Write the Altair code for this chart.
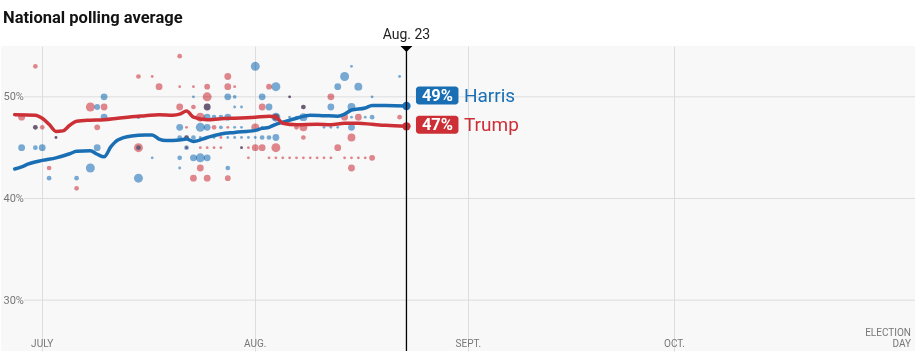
import altair as alt
import pandas as pd

# ---------------- data ----------------
title_text = "National polling average"
candidates = ["Harris", "Trump"]

# polling averages (knots)
harris_avg_dates = ["2024-06-27", "2024-06-28", "2024-06-29", "2024-07-01", "2024-07-03", "2024-07-05",
                    "2024-07-06", "2024-07-08", "2024-07-09", "2024-07-10", "2024-07-11", "2024-07-12",
                    "2024-07-14", "2024-07-16", "2024-07-17", "2024-07-18", "2024-07-19", "2024-07-21",
                    "2024-07-22", "2024-07-23", "2024-07-25", "2024-07-27", "2024-07-29", "2024-08-01",
                    "2024-08-02", "2024-08-03", "2024-08-04", "2024-08-05", "2024-08-07", "2024-08-09",
                    "2024-08-11", "2024-08-13", "2024-08-14", "2024-08-15", "2024-08-17", "2024-08-18",
                    "2024-08-20", "2024-08-23"]
harris_avg_values = [42.9, 43.1, 43.4, 43.75, 44.0, 44.4,
                     44.65, 44.7, 44.35, 44.1, 45.1, 45.75,
                     46.15, 46.25, 46.25, 45.85, 45.7, 45.75,
                     45.85, 45.6, 46.0, 46.35, 46.5, 46.7,
                     46.9, 47.0, 47.3, 47.5, 47.9, 48.2,
                     48.15, 48.1, 48.3, 48.7, 48.9, 49.15,
                     49.15, 49.1]

trump_avg_dates = ["2024-06-27", "2024-06-30", "2024-07-01", "2024-07-02", "2024-07-03", "2024-07-04",
                   "2024-07-05", "2024-07-06", "2024-07-08", "2024-07-10", "2024-07-12", "2024-07-14",
                   "2024-07-16", "2024-07-18", "2024-07-20", "2024-07-21", "2024-07-22", "2024-07-23",
                   "2024-07-25", "2024-07-27", "2024-07-29", "2024-08-01", "2024-08-03", "2024-08-04",
                   "2024-08-05", "2024-08-07", "2024-08-10", "2024-08-12", "2024-08-14", "2024-08-16",
                   "2024-08-18", "2024-08-20", "2024-08-23"]
trump_avg_values = [48.25, 48.2, 47.9, 47.3, 46.6, 46.65,
                    47.2, 47.6, 47.7, 47.75, 47.9, 48.05,
                    48.15, 48.25, 48.2, 48.3, 48.6, 48.0,
                    47.75, 47.85, 47.9, 48.0, 48.1, 48.0,
                    47.4, 47.25, 47.3, 47.25, 47.4, 47.4,
                    47.3, 47.2, 47.1]

# individual polls
harris_poll_dates = ["2024-06-28", "2024-06-30", "2024-06-30", "2024-07-01", "2024-07-02", "2024-07-03",
                     "2024-07-06", "2024-07-08", "2024-07-09", "2024-07-09", "2024-07-10", "2024-07-10",
                     "2024-07-15", "2024-07-15", "2024-07-15", "2024-07-17", "2024-07-21", "2024-07-21",
                     "2024-07-21", "2024-07-21", "2024-07-22", "2024-07-22", "2024-07-23", "2024-07-23",
                     "2024-07-23", "2024-07-24", "2024-07-24", "2024-07-24", "2024-07-25", "2024-07-25",
                     "2024-07-25", "2024-07-25", "2024-07-26", "2024-07-26", "2024-07-27", "2024-07-27",
                     "2024-07-28", "2024-07-28", "2024-07-28", "2024-07-28", "2024-07-29", "2024-07-29",
                     "2024-07-29", "2024-07-29", "2024-07-30", "2024-07-30", "2024-07-30", "2024-07-30",
                     "2024-07-31", "2024-08-01", "2024-08-01", "2024-08-02", "2024-08-02", "2024-08-02",
                     "2024-08-03", "2024-08-03", "2024-08-03", "2024-08-04", "2024-08-04", "2024-08-04",
                     "2024-08-06", "2024-08-06", "2024-08-07", "2024-08-08", "2024-08-08", "2024-08-11",
                     "2024-08-12", "2024-08-12", "2024-08-13", "2024-08-13", "2024-08-14", "2024-08-15",
                     "2024-08-15", "2024-08-15", "2024-08-15", "2024-08-16", "2024-08-17", "2024-08-18",
                     "2024-08-18", "2024-08-22"]
harris_poll_values = [45, 45, 47, 45, 42, 46,
                      42, 43, 49, 45, 50, 48,
                      48, 45, 42, 44, 47, 46,
                      44, 43, 46, 45, 50, 46,
                      44, 47, 46, 44, 49, 48,
                      47, 44, 48, 46, 48, 47,
                      50, 48, 46, 43, 50, 49,
                      47, 46, 49, 47, 46, 45,
                      46, 53, 46, 50, 47, 46,
                      49, 47, 46, 51, 48, 46,
                      50, 48, 48, 49, 48, 47,
                      49, 47, 51, 47, 52, 53,
                      49, 48, 47, 51, 48, 50,
                      48, 52]
harris_poll_weights = [3, 2, 2, 3, 2, 1,
                       2, 4, 2.5, 3, 3, 3,
                       1.5, 2, 4, 1, 3, 2,
                       2, 1, 2, 2, 1, 2,
                       3, 4, 1, 4, 3, 3,
                       3, 3, 2, 1, 2, 1.5,
                       3, 3, 1, 2, 1.5, 1,
                       1, 1, 1, 1, 1, 1,
                       1, 4, 1, 3, 1, 2,
                       3, 1, 2, 4, 4, 3,
                       1, 1, 1, 2, 3.5, 1,
                       3, 1, 3, 1, 4, 1,
                       3.5, 1, 3, 3.5, 1, 1,
                       2, 1]

trump_poll_dates = ["2024-06-28", "2024-06-30", "2024-06-30", "2024-07-01", "2024-07-02", "2024-07-03",
                    "2024-07-06", "2024-07-08", "2024-07-09", "2024-07-10", "2024-07-15", "2024-07-15",
                    "2024-07-17", "2024-07-18", "2024-07-21", "2024-07-21", "2024-07-21", "2024-07-22",
                    "2024-07-22", "2024-07-22", "2024-07-23", "2024-07-23", "2024-07-23", "2024-07-24",
                    "2024-07-24", "2024-07-24", "2024-07-25", "2024-07-25", "2024-07-25", "2024-07-25",
                    "2024-07-25", "2024-07-25", "2024-07-26", "2024-07-26", "2024-07-27", "2024-07-27",
                    "2024-07-28", "2024-07-28", "2024-07-28", "2024-07-28", "2024-07-29", "2024-07-30",
                    "2024-07-31", "2024-07-31", "2024-08-01", "2024-08-01", "2024-08-02", "2024-08-02",
                    "2024-08-03", "2024-08-03", "2024-08-04", "2024-08-04", "2024-08-04", "2024-08-05",
                    "2024-08-06", "2024-08-06", "2024-08-07", "2024-08-07", "2024-08-08", "2024-08-08",
                    "2024-08-08", "2024-08-08", "2024-08-09", "2024-08-10", "2024-08-11", "2024-08-12",
                    "2024-08-12", "2024-08-13", "2024-08-14", "2024-08-14", "2024-08-15", "2024-08-15",
                    "2024-08-15", "2024-08-16", "2024-08-16", "2024-08-17", "2024-08-18", "2024-08-22"]
trump_poll_values = [48, 53, 47, 47, 43, 46,
                     41, 49, 47, 49, 52, 45,
                     52, 51, 54, 51, 49, 47,
                     46, 45, 51, 49, 42, 48,
                     45, 43, 51, 50, 49, 46,
                     45, 42, 47, 45, 46, 45,
                     52, 51, 47, 42, 51, 45,
                     45, 44, 47, 45, 49, 45,
                     51, 44, 48, 45, 44, 44,
                     50, 44, 47, 44, 49, 47,
                     46, 44, 44, 44, 44, 50,
                     44, 45, 48, 44, 46, 44,
                     43, 48, 44, 44, 44, 48]
trump_poll_weights = [3, 2, 2, 2, 2, 1,
                      2, 4, 2.5, 3, 2, 4,
                      1, 3, 2, 1, 3, 1,
                      2, 1, 1, 2, 3, 4,
                      1, 3, 2.5, 4, 3, 1,
                      1, 3, 2, 1, 1, 1,
                      3, 3, 1, 2.5, 1, 1,
                      1, 1, 3.5, 3, 3, 3,
                      2.5, 1, 3, 4, 1, 1,
                      1, 1, 2, 1, 2, 3.5,
                      2, 1, 1, 1, 1, 3,
                      1, 3, 3, 1, 3.5, 1,
                      3, 3, 1, 1, 2.5, 2]

y_ticks = [30, 40, 50]
month_dates = ["2024-07-01", "2024-08-01", "2024-09-01", "2024-10-01"]
month_labels = ["JULY", "AUG.", "SEPT.", "OCT."]
election_date = "2024-11-05"
election_label = "ELECTION\nDAY"
current_date = "2024-08-23"
current_label = "Aug. 23"

# ---------------- styles ----------------
line_colors = {"Harris": "#1a6fb4", "Trump": "#cc3036"}
dot_colors = {"Harris": "#7aaed9", "Trump": "#e58a8f"}
label_shift = {"Harris": -10.5, "Trump": -1.5}
FONT = "Roboto"
W, H = 914, 305

# ---------------- frames ----------------
avg_df = pd.concat([
    pd.DataFrame({"date": harris_avg_dates, "value": harris_avg_values, "candidate": "Harris"}),
    pd.DataFrame({"date": trump_avg_dates, "value": trump_avg_values, "candidate": "Trump"}),
], ignore_index=True)
avg_df["col"] = avg_df["candidate"].map(line_colors)

poll_df = pd.concat([
    pd.DataFrame({"date": harris_poll_dates, "value": harris_poll_values,
                  "weight": harris_poll_weights, "candidate": "Harris"}),
    pd.DataFrame({"date": trump_poll_dates, "value": trump_poll_values,
                  "weight": trump_poll_weights, "candidate": "Trump"}),
], ignore_index=True)
poll_df["col"] = poll_df["candidate"].map(dot_colors)

end_df = avg_df.groupby("candidate", as_index=False).last()
end_df["pct"] = end_df["value"].round().astype(int).astype(str) + "%"

months_df = pd.DataFrame({"date": month_dates, "label": month_labels})
elec_df = pd.DataFrame({"date": [election_date], "label": [election_label]})
cur_df = pd.DataFrame({"date": [current_date], "label": [current_label]})
ytick_df = pd.DataFrame({"value": y_ticks})
title_df = pd.DataFrame({"t": [title_text]})

# ---------------- scales / axes ----------------
xscale = alt.Scale(domain=[alt.DateTime(year=2024, month=6, date=25, utc=True),
                           alt.DateTime(year=2024, month=11, date=5, utc=True)])
yscale = alt.Scale(domain=[25, 55], zero=False, nice=False)
x_axis = alt.Axis(values=[alt.DateTime(year=2024, month=m, date=1, utc=True) for m in (7, 8, 9, 10)],
                  grid=True, gridColor="#dddddd", gridWidth=1, labels=False, ticks=False,
                  domain=False, title=None)
y_axis = alt.Axis(values=y_ticks, grid=False, ticks=False, domain=False, title=None,
                  labelExpr="datum.value + '%'", labelAlign="left", labelBaseline="middle",
                  labelPadding=-2, labelFont=FONT, labelFontSize=11, labelColor="#777777")

X = alt.X("date:T", scale=xscale, axis=x_axis)
Y = alt.Y("value:Q", scale=yscale, axis=y_axis)

hgrid = alt.Chart(ytick_df).mark_rule(color="#dddddd", strokeWidth=1).encode(
    y=Y, x=alt.value(23), x2=alt.value(W),
)

vgrid = alt.Chart(months_df).mark_point(opacity=0).encode(x=X, y=alt.value(0))

polls = alt.Chart(poll_df).mark_circle(opacity=1, blend="multiply").encode(
    x=X, y=Y,
    color=alt.Color("col:N", scale=None),
    size=alt.Size("weight:Q", scale=alt.Scale(type="pow", exponent=2, domain=[1, 4],
                                              range=[8, 80], zero=False), legend=None),
)

lines = alt.Chart(avg_df).mark_line(interpolate="monotone", strokeWidth=3.5, strokeCap="round").encode(
    x=X, y=Y, color=alt.Color("col:N", scale=None), detail="candidate:N",
)

ends = alt.Chart(end_df).mark_circle(size=70, opacity=1).encode(
    x=X, y=Y, color=alt.Color("col:N", scale=None),
)

cur_rule = alt.Chart(cur_df).mark_rule(color="black", strokeWidth=1.3).encode(
    x=X, y=alt.value(0), y2=alt.value(H),
)
cur_tri = alt.Chart(cur_df).mark_point(shape="M-1,0L1,0L0,1Z", filled=True, size=144,
                                       color="black", opacity=1).encode(x=X, y=alt.value(0))
cur_text = alt.Chart(cur_df).mark_text(font=FONT, fontSize=14, color="#222222",
                                       baseline="alphabetic", align="center").encode(
    x=X, y=alt.value(-7), text="label:N")

label_layers = []
for cand in candidates:
    d = end_df[end_df["candidate"] == cand]
    off = label_shift[cand]
    box = alt.Chart(d).mark_rect(cornerRadius=3, xOffset=9.5, x2Offset=52,
                                 yOffset=off - 9, y2Offset=off + 9).encode(
        x=X, x2="date:T", y=Y, y2="value:Q", color=alt.Color("col:N", scale=None))
    pct = alt.Chart(d).mark_text(font=FONT, fontSize=16.5, fontWeight="bold", color="white",
                                 align="center", baseline="middle", dx=31, dy=off + 0.5).encode(
        x=X, y=Y, text="pct:N")
    name = alt.Chart(d).mark_text(font=FONT, fontSize=19, align="left", baseline="middle",
                                  dx=57.5, dy=off + 0.5).encode(
        x=X, y=Y, text="candidate:N", color=alt.Color("col:N", scale=None))
    label_layers += [box, pct, name]

month_text = alt.Chart(months_df).mark_text(font=FONT, fontSize=10, color="#777777",
                                            align="center", baseline="alphabetic").encode(
    x=X, y=alt.value(300.7), text="label:N")
elec_text = alt.Chart(elec_df).mark_text(font=FONT, fontSize=10, color="#777777", align="right",
                                         baseline="alphabetic", lineBreak="\n", lineHeight=11,
                                         dx=-4).encode(
    x=X, y=alt.value(289.7), text="label:N")

title = alt.Chart(title_df).mark_text(font=FONT, fontSize=16.5, fontWeight="bold", color="#121212",
                                      align="left", baseline="alphabetic").encode(
    x=alt.value(2), y=alt.value(-23.5), text="t:N")

chart = alt.layer(
    vgrid, hgrid, polls, lines, ends, cur_rule, cur_tri, cur_text,
    *label_layers, month_text, elec_text, title,
).properties(
    width=W, height=H,
    autosize=alt.AutoSizeParams(type="none"),
    padding={"left": 1, "top": 46, "right": 0, "bottom": 1},
).configure_view(fill="#f8f8f8", stroke=None)

chart.save("out.html", embed_options={"renderer": "svg", "actions": False})
